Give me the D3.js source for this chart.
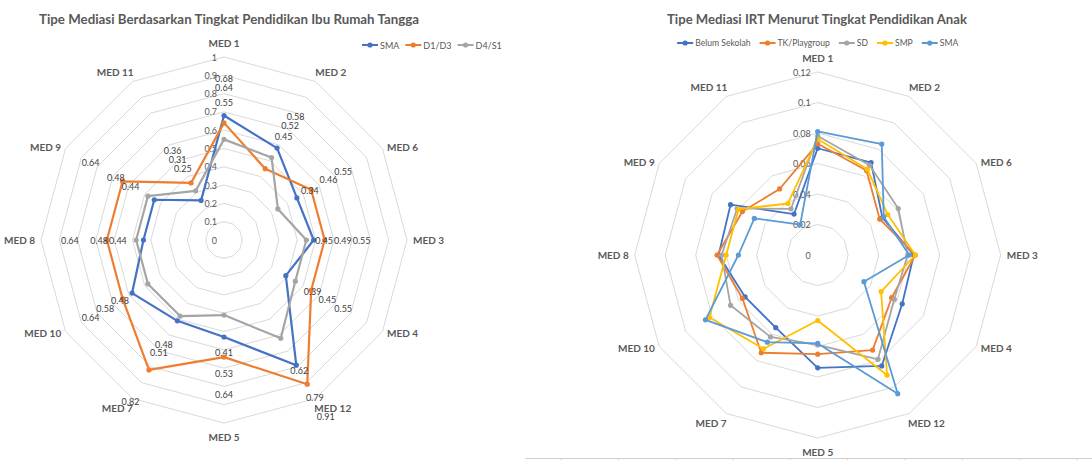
<!DOCTYPE html>
<html><head><meta charset="utf-8">
<script src="https://cdn.jsdelivr.net/npm/d3@7"></script>
<style>
body{margin:0;background:#fff;}
text{font-family:Lato,"Open Sans",sans-serif;}
</style>
</head><body>
<svg id="chart" width="1092" height="460"></svg>
<script>
// ---------- DATA ----------
const categories = ["MED 1","MED 2","MED 6","MED 3","MED 4","MED 12","MED 5","MED 7","MED 10","MED 8","MED 9","MED 11"];

// Left chart: Tipe Mediasi Berdasarkan Tingkat Pendidikan Ibu Rumah Tangga
const leftTitle = "Tipe Mediasi Berdasarkan Tingkat Pendidikan Ibu Rumah Tangga";
const leftSeriesNames = ["SMA","D1/D3","D4/S1"];
const leftSMA  = [0.68,0.58,0.46,0.49,0.39,0.79,0.53,0.51,0.58,0.44,0.44,0.25];
const leftD1D3 = [0.64,0.45,0.55,0.55,0.55,0.91,0.64,0.82,0.64,0.64,0.64,0.36];
const leftD4S1 = [0.55,0.52,0.34,0.45,0.45,0.62,0.41,0.48,0.48,0.48,0.48,0.31];
const leftTicks = [0,0.1,0.2,0.3,0.4,0.5,0.6,0.7,0.8,0.9,1];
const leftTickLabels = ["0","0.1","0.2","0.3","0.4","0.5","0.6","0.7","0.8","0.9","1"];

// Right chart: Tipe Mediasi IRT Menurut Tingkat Pendidikan Anak
const rightTitle = "Tipe Mediasi IRT Menurut Tingkat Pendidikan Anak";
const rightSeriesNames = ["Belum Sekolah","TK/Playgroup","SD","SMP","SMA"];
const rightBelum = [0.070,0.070,0.049,0.063,0.064,0.084,0.074,0.055,0.055,0.065,0.066,0.031];
const rightTK    = [0.073,0.064,0.047,0.064,0.056,0.072,0.065,0.074,0.057,0.066,0.057,0.050];
const rightSD    = [0.078,0.068,0.061,0.059,0.058,0.079,0.059,0.062,0.066,0.063,0.061,0.035];
const rightSMP   = [0.076,0.065,0.053,0.064,0.048,0.091,0.043,0.071,0.082,0.060,0.060,0.039];
const rightSMA   = [0.081,0.084,0.050,0.060,0.035,0.105,0.058,0.066,0.085,0.052,0.048,0.023];
const rightTicks = [0,0.02,0.04,0.06,0.08,0.1,0.12];
const rightTickLabels = ["0","0.02","0.04","0.06","0.08","0.1","0.12"];

// ---------- DRAW ----------
const svg = d3.select("#chart");
const N = categories.length;
const step = 2*Math.PI/N;

function fitText(sel, w){
  const n = sel.node();
  if (n.getComputedTextLength() > w) sel.attr("textLength", w).attr("lengthAdjust","spacingAndGlyphs");
}

function drawRadar(o){
  const g = svg.append("g");
  const r = d3.scaleLinear().domain([0, o.max]).range([0, o.R]);
  const polar = (i, rr) => {
    const a = i*step;
    return [o.cx + rr*Math.sin(a), o.cy - rr*Math.cos(a)];
  };
  const pt = (i, v) => polar(i, r(v));
  // grid rings
  const ring = d3.lineRadial().angle((d,i)=>i*step).radius(d=>r(d)).curve(d3.curveLinearClosed);
  g.append("g").selectAll("path").data(o.ticks.filter(t=>t>0)).join("path")
    .attr("transform",`translate(${o.cx},${o.cy})`)
    .attr("d", t => ring(d3.range(N).map(()=>t)))
    .attr("fill","none").attr("stroke","#d9d9d9").attr("stroke-width",1);
  // tick labels
  g.append("g").selectAll("text").data(o.ticks).join("text")
    .attr("x", o.cx-7).attr("y", t=>o.cy - r(t))
    .attr("text-anchor","end").attr("dominant-baseline","central")
    .attr("font-size", 9).attr("fill","#595959")
    .text((t,i)=>o.tickLabels[i]);
  // category labels
  const lab = g.append("g");
  categories.forEach((c,i)=>{
    const a=i*step, s=Math.sin(a), co=Math.cos(a);
    const [vx,vy] = pt(i, o.max);
    const t = lab.append("text").attr("font-size",10).attr("font-weight","bold").attr("fill","#595959")
      .attr("text-anchor","middle").attr("dominant-baseline","central").text(c);
    const w = t.node().getComputedTextLength();
    const dx = Math.sign(s)*Math.sqrt(Math.abs(s))*(w/2+6);
    const dy = -co*co*co*14;
    t.attr("x", vx+dx).attr("y", vy+dy);
  });
  // series
  const line = d3.lineRadial().angle((d,i)=>i*step).radius(d=>r(d)).curve(d3.curveLinearClosed);
  o.series.forEach((sv,k)=>{
    const sg = g.append("g");
    sg.append("path").attr("transform",`translate(${o.cx},${o.cy})`)
      .attr("d", line(sv)).attr("fill","none").attr("stroke", o.colors[k])
      .attr("stroke-width", o.lw).attr("stroke-linejoin","round");
    sg.selectAll("circle").data(sv).join("circle")
      .attr("cx",(d,i)=>pt(i,d)[0]).attr("cy",(d,i)=>pt(i,d)[1])
      .attr("r",2.6).attr("fill",o.colors[k]);
  });
  // data labels: placed outward along each axis, pushed apart when they collide
  if (o.dataLabels){
    const dl = g.append("g");
    const fmt = d => d3.format(".2f")(d).replace(/0$/,"");
    categories.forEach((c,i)=>{
      const a=i*step, s=Math.abs(Math.sin(a)), co=Math.abs(Math.cos(a));
      const items = o.series.map(sv=>({v:sv[i], rr:r(sv[i])+37}));
      items.sort((p,q)=>q.rr-p.rr);
      const nodes = items.map(it=>{
        const t = dl.append("text").attr("text-anchor","middle").attr("dominant-baseline","central")
          .attr("font-size",9).attr("fill","#404040").text(fmt(it.v));
        it.t = t; it.w = t.node().getComputedTextLength();
        return it;
      });
      for (let j=1;j<nodes.length;j++){
        const w = Math.max(nodes[j].w, nodes[j-1].w);
        const sep = Math.min(s>1e-6 ? w/s : 1e9, co>1e-6 ? 8/co : 1e9) + 1;
        nodes[j].rr = Math.min(nodes[j].rr, nodes[j-1].rr - sep);
      }
      nodes.forEach(it=>{
        const [x,y] = polar(i, it.rr);
        it.t.attr("x",x).attr("y",y);
      });
    });
  }
  // title
  const tt = svg.append("text").attr("x", o.titleX).attr("y", 19)
    .attr("text-anchor","middle").attr("dominant-baseline","central")
    .attr("font-size",13.5).attr("font-weight","bold").attr("fill","#595959").text(o.title);
  fitText(tt, o.titleW);
  // legend
  const lg = svg.append("g");
  let x = 0;
  o.names.forEach((n,k)=>{
    const ig = lg.append("g").attr("transform",`translate(${x},0)`);
    ig.append("line").attr("x1",0).attr("x2",16).attr("y1",0).attr("y2",0)
      .attr("stroke",o.colors[k]).attr("stroke-width",2);
    ig.append("circle").attr("cx",8).attr("cy",0).attr("r",2.6).attr("fill",o.colors[k]);
    const t = ig.append("text").attr("x",18).attr("y",0).attr("dominant-baseline","central")
      .attr("font-size",o.legendFont).attr("fill","#595959").text(n);
    x += 18 + t.node().getComputedTextLength() + o.legendGap;
  });
  const total = x - o.legendGap;
  const lx = o.legendCenter ? o.cx - total/2 : o.legendX;
  lg.attr("transform",`translate(${lx},${o.legendY})`);
}

drawRadar({
  cx:224, cy:240, R:183, max:1, ticks:leftTicks, tickLabels:leftTickLabels,
  series:[leftSMA,leftD1D3,leftD4S1], names:leftSeriesNames,
  colors:["#4472C4","#ED7D31","#A5A5A5"], lw:2.2, dataLabels:true,
  title:leftTitle, titleX:229, titleW:380,
  legendX:362, legendY:45, legendGap:6, legendFont:9, legendCenter:false
});
drawRadar({
  cx:817.7, cy:255, R:183, max:0.12, ticks:rightTicks, tickLabels:rightTickLabels,
  series:[rightBelum,rightTK,rightSD,rightSMP,rightSMA], names:rightSeriesNames,
  colors:["#4472C4","#ED7D31","#A5A5A5","#FFC000","#5B9BD5"], lw:1.8, dataLabels:false,
  title:rightTitle, titleX:817, titleW:300,
  legendY:43, legendGap:9, legendFont:8.6, legendCenter:true
});

// faint axis fragment at the bottom of the right panel
const bx = d3.scaleLinear().domain([0,9]).range([561,1077]);
const bottom = svg.append("g").attr("transform","translate(0,458.5)");
bottom.append("line").attr("x1",525).attr("x2",1092).attr("stroke","#d0d0d0");
bottom.selectAll("line.t").data(d3.range(10)).join("line").attr("class","t")
  .attr("x1",d=>bx(d)).attr("x2",d=>bx(d)).attr("y1",0).attr("y2",3).attr("stroke","#d0d0d0");
</script>
</body></html>
